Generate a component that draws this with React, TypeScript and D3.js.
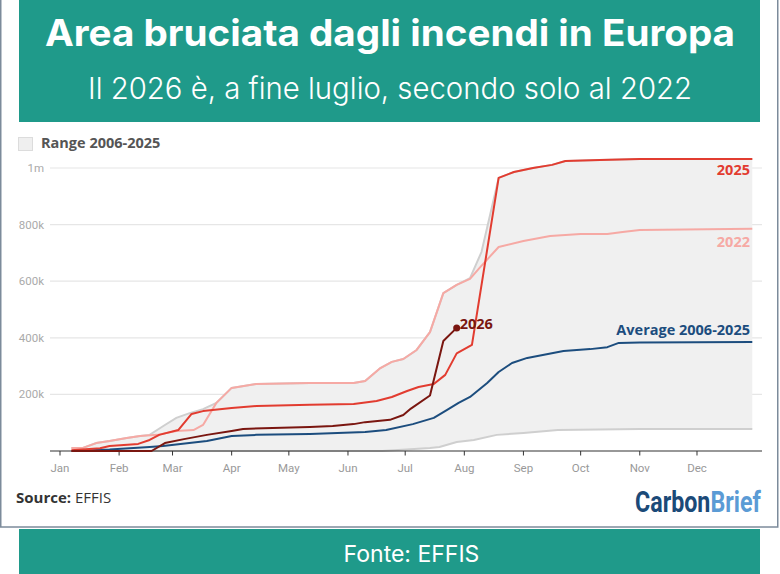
import React from "react";
import * as d3 from "d3";

const TITLE = "Area bruciata dagli incendi in Europa";
const SUBTITLE = "Il 2026 è, a fine luglio, secondo solo al 2022";
const FOOTER = "Fonte: EFFIS";
const LEGEND_LABEL = "Range 2006-2025";

const yTicks = [200000, 400000, 600000, 800000, 1000000];
const yTickLabels = ["200k", "400k", "600k", "800k", "1m"];

// values in thousands of hectares, dates as MM-DD
const series2022: [string, number][] = [
  ["01-07", 11], ["01-13", 11], ["01-20", 28], ["01-27", 35], ["02-05", 46], ["02-12", 53],
  ["02-21", 57], ["03-03", 71], ["03-12", 74], ["03-17", 92], ["03-24", 170], ["04-01", 223],
  ["04-14", 237], ["05-12", 240], ["06-04", 240], ["06-10", 247], ["06-18", 293], ["06-24", 315],
  ["06-30", 325], ["07-07", 357], ["07-14", 420], ["07-21", 558], ["07-28", 587], ["08-04", 608],
  ["08-09", 647], ["08-19", 721], ["09-01", 742], ["09-15", 760], ["10-01", 767], ["10-15", 767],
  ["10-23", 774], ["11-01", 781], ["12-30", 785],
];

const series2025: [string, number][] = [
  ["01-07", 3], ["01-22", 10], ["01-27", 18], ["02-11", 25], ["02-17", 39], ["02-22", 57],
  ["03-04", 74], ["03-11", 131], ["03-17", 141], ["04-01", 152], ["04-14", 159], ["05-12", 163],
  ["06-04", 166], ["06-16", 177], ["06-24", 191], ["07-02", 212], ["07-08", 226], ["07-16", 237],
  ["07-22", 269], ["07-28", 345], ["08-05", 375], ["08-19", 965], ["08-27", 986], ["09-06", 1000],
  ["09-16", 1011], ["09-23", 1025], ["10-11", 1028], ["11-01", 1032], ["12-30", 1032],
];

const series2026: [string, number][] = [
  ["01-07", 0], ["02-18", 0], ["02-25", 28], ["03-07", 42], ["03-19", 57], ["04-01", 71],
  ["04-07", 78], ["05-12", 85], ["05-24", 88], ["06-04", 95], ["06-10", 102], ["06-23", 110],
  ["06-30", 127], ["07-04", 150], ["07-14", 196], ["07-21", 389], ["07-28", 435],
];

const seriesAverage: [string, number][] = [
  ["01-07", 0], ["01-27", 5], ["02-17", 14], ["02-24", 18], ["03-19", 35], ["04-01", 53],
  ["04-14", 57], ["05-12", 60], ["06-10", 67], ["06-21", 74], ["07-05", 95], ["07-16", 117],
  ["07-23", 145], ["07-29", 170], ["08-04", 191], ["08-13", 240], ["08-19", 279], ["08-26", 311],
  ["09-03", 329], ["09-22", 353], ["10-06", 360], ["10-15", 367], ["10-21", 382], ["11-01", 383],
  ["12-30", 385],
];

const rangeUpper: [string, number][] = [
  ["01-07", 11], ["01-13", 11], ["01-20", 28], ["01-27", 35], ["02-05", 46], ["02-12", 53],
  ["02-17", 57], ["02-25", 92], ["03-03", 117], ["03-10", 134], ["03-17", 148], ["03-24", 170],
  ["04-01", 223], ["04-14", 237], ["05-12", 240], ["06-04", 240], ["06-10", 247], ["06-18", 293],
  ["06-24", 315], ["06-30", 325], ["07-07", 357], ["07-14", 420], ["07-21", 558], ["07-28", 587],
  ["08-04", 611], ["08-10", 703], ["08-19", 965], ["08-27", 986], ["09-06", 1000], ["09-16", 1011],
  ["09-23", 1025], ["10-11", 1028], ["11-01", 1032], ["12-30", 1032],
];

const rangeLower: [string, number][] = [
  ["01-07", 0], ["06-19", 0], ["07-14", 11], ["07-19", 14], ["07-28", 32], ["08-06", 39],
  ["08-18", 57], ["09-01", 64], ["09-19", 74], ["11-01", 78], ["12-30", 78],
];

const parse = d3.timeParse("%Y-%m-%d");
const toDate = (s: string) => parse("2025-" + s) as Date;

const TEAL = "#1f9a8a";
const C2025 = "#e23c30";
const C2022 = "#f6a9a4";
const C2026 = "#7a1610";
const CAVG = "#1c4d7e";

export default function App() {
  const x = d3.scaleTime().domain([toDate("01-01"), toDate("12-31")]).range([60, 754.2]);
  const y = d3.scaleLinear().domain([0, 1000000]).range([451, 168]);

  const line = d3
    .line<[string, number]>()
    .x((d) => x(toDate(d[0])))
    .y((d) => y(d[1] * 1000));

  const upperPts = rangeUpper.map((d) => [x(toDate(d[0])), y(d[1] * 1000)]);
  const lowerPts = rangeLower.map((d) => [x(toDate(d[0])), y(d[1] * 1000)]).reverse();
  const bandPath =
    "M" + upperPts.map((p) => p.join(",")).join("L") + "L" + lowerPts.map((p) => p.join(",")).join("L") + "Z";

  const months = d3.timeMonth.range(toDate("01-01"), toDate("12-31"));
  const fmt = d3.timeFormat("%b");

  const last2026 = series2026[series2026.length - 1];
  const fontLabel = "'Open Sans', 'Noto Sans', sans-serif";

  return (
    <div style={{ position: "absolute", left: 0, top: 0, width: 780, height: 574, background: "#fff" }}>
      <svg width={780} height={574} style={{ display: "block" }}>
        <rect x={0.75} y={-2} width={777} height={529} fill="#fff" stroke="#7c8b9b" strokeWidth={1.5} />
        <rect x={19} y={0} width={741} height={122} fill={TEAL} />
        <text x={390} y={46} textAnchor="middle" fill="#fff" fontFamily="Inter, sans-serif" fontWeight={700} fontSize={37} textLength={690} lengthAdjust="spacingAndGlyphs">
          {TITLE}
        </text>
        <text x={390} y={99} textAnchor="middle" fill="#fff" fontFamily="Inter, sans-serif" fontWeight={300} fontSize={30} textLength={604} lengthAdjust="spacingAndGlyphs">
          {SUBTITLE}
        </text>

        {/* legend */}
        <rect x={18.5} y={137.5} width={14} height={13} fill="#efefef" stroke="#dcdcdc" />
        <text x={41} y={147.5} fill="#555" fontFamily={fontLabel} fontWeight={700} fontSize={14.5}>
          {LEGEND_LABEL}
        </text>

        {/* grid */}
        {yTicks.map((t, i) => (
          <g key={t}>
            <line x1={50} x2={762} y1={y(t)} y2={y(t)} stroke="#e6e6e6" strokeWidth={1.2} />
            <text x={44} y={y(t) + 4} textAnchor="end" fill="#aaaaaa" fontFamily="Roboto, sans-serif" fontSize={11.5}>
              {yTickLabels[i]}
            </text>
          </g>
        ))}

        {/* band */}
        <path d={bandPath} fill="#f0f0f0" />
        <path d={line(rangeUpper) || ""} fill="none" stroke="#cfcfcf" strokeWidth={2} />
        <path d={line(rangeLower) || ""} fill="none" stroke="#cfcfcf" strokeWidth={2} />

        {/* axis */}
        <line x1={50} x2={762} y1={451} y2={451} stroke="#333" strokeWidth={1.2} />
        {months.map((m) => (
          <g key={m.getTime()}>
            <line x1={x(m)} x2={x(m)} y1={451} y2={455.5} stroke="#333" strokeWidth={1} />
            <text x={x(m)} y={472} textAnchor="middle" fill="#999" fontFamily="Roboto, sans-serif" fontSize={11.5}>
              {fmt(m)}
            </text>
          </g>
        ))}

        {/* series */}
        <path d={line(seriesAverage) || ""} fill="none" stroke={CAVG} strokeWidth={2} strokeLinejoin="round" />
        <path d={line(series2022) || ""} fill="none" stroke={C2022} strokeWidth={2} strokeLinejoin="round" />
        <path d={line(series2025) || ""} fill="none" stroke={C2025} strokeWidth={2} strokeLinejoin="round" />
        <path d={line(series2026) || ""} fill="none" stroke={C2026} strokeWidth={2} strokeLinejoin="round" />
        <circle cx={x(toDate(last2026[0]))} cy={y(last2026[1] * 1000)} r={3.5} fill={C2026} />

        {/* labels */}
        <text x={x(toDate(last2026[0])) + 3} y={y(last2026[1] * 1000) + 1} fill={C2026} fontFamily={fontLabel} fontWeight={700} fontSize={14.5}>
          2026
        </text>
        <text x={750} y={175} textAnchor="end" fill={C2025} fontFamily={fontLabel} fontWeight={700} fontSize={14.5}>
          2025
        </text>
        <text x={750} y={247} textAnchor="end" fill={C2022} fontFamily={fontLabel} fontWeight={700} fontSize={14.5}>
          2022
        </text>
        <text x={750} y={335} textAnchor="end" fill={CAVG} fontFamily={fontLabel} fontWeight={700} fontSize={14.5}>
          Average 2006-2025
        </text>

        {/* source */}
        <text x={16} y={503} fill="#333" fontFamily={fontLabel} fontSize={15}>
          <tspan fontWeight={700}>Source:</tspan>
          <tspan> EFFIS</tspan>
        </text>

        {/* logo */}
        <g transform="translate(635,512) scale(0.775,1)">
          <text x={0} y={0} fontFamily="Roboto, sans-serif" fontWeight={700} fontSize={30}>
            <tspan fill="#1b4a78">Carbon</tspan>
            <tspan fill="#5b9bd5">Brief</tspan>
          </text>
        </g>

        <rect x={19} y={529} width={741} height={45} fill={TEAL} />
        <text x={411.5} y={562} textAnchor="middle" fill="#fff" fontFamily="Inter, sans-serif" fontWeight={400} fontSize={23}>
          {FOOTER}
        </text>
      </svg>
    </div>
  );
}
